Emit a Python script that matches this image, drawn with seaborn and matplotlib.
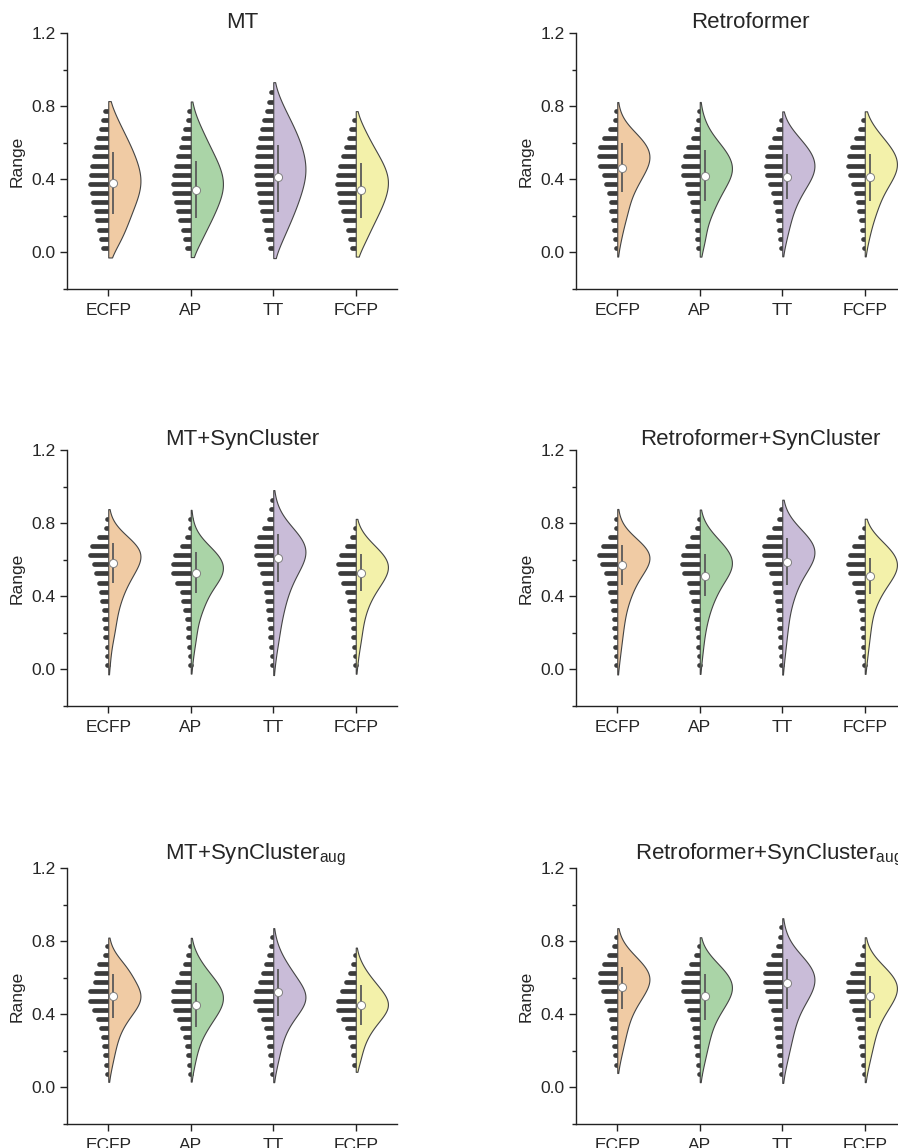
import numpy as np
import pandas as pd
import matplotlib
matplotlib.use("Agg")
import matplotlib.pyplot as plt
import seaborn as sns
from matplotlib.ticker import MultipleLocator, FormatStrFormatter

categories = ["ECFP", "AP", "TT", "FCFP"]
colors = ["#FDCB97", "#A4DBA0", "#C9B7DD", "#FFFC9E"]
bin_width = 0.05

# MT
mt_start = [0.025, 0.025, 0.025, 0.025]
mt_counts = [
    [5, 7, 9, 11, 12, 15, 16, 18, 17, 16, 14, 12, 10, 7, 5, 3],
    [4, 6, 8, 11, 13, 15, 17, 18, 17, 15, 13, 10, 8, 6, 3, 2],
    [3, 5, 7, 9, 11, 13, 14, 16, 17, 17, 16, 15, 13, 11, 9, 6, 4, 2],
    [4, 6, 8, 11, 13, 16, 17, 19, 18, 16, 13, 10, 7, 5, 2],
]
mt_mean = [0.38, 0.34, 0.41, 0.34]
mt_low = [0.21, 0.19, 0.22, 0.19]
mt_high = [0.55, 0.50, 0.59, 0.49]

# Retroformer
rf_start = [0.025, 0.025, 0.025, 0.025]
rf_counts = [
    [1, 2, 3, 4, 6, 6, 8, 11, 13, 17, 18, 17, 13, 7, 2, 1],
    [2, 3, 3, 4, 7, 8, 11, 13, 17, 17, 15, 12, 7, 4, 2, 1],
    [1, 2, 3, 4, 5, 7, 9, 12, 15, 16, 15, 12, 8, 4, 1],
    [1, 2, 3, 4, 6, 7, 9, 12, 15, 17, 16, 13, 9, 5, 2],
]
rf_mean = [0.46, 0.42, 0.41, 0.41]
rf_low = [0.33, 0.28, 0.29, 0.28]
rf_high = [0.60, 0.56, 0.54, 0.54]

# MT+SynCluster
mts_start = [0.025, 0.025, 0.025, 0.025]
mts_counts = [
    [1, 1, 1, 3, 3, 4, 4, 6, 7, 9, 12, 14, 18, 16, 9, 2, 1],
    [1, 1, 2, 3, 3, 4, 6, 8, 9, 14, 18, 18, 16, 9, 4, 1, 1],
    [1, 1, 2, 3, 3, 4, 5, 6, 7, 9, 11, 14, 17, 17, 14, 9, 4, 2, 1],
    [1, 1, 2, 3, 3, 4, 5, 7, 9, 13, 16, 18, 15, 9, 4, 1],
]
mts_mean = [0.58, 0.53, 0.61, 0.53]
mts_low = [0.47, 0.42, 0.48, 0.43]
mts_high = [0.69, 0.64, 0.74, 0.63]

# Retroformer+SynCluster
rfs_start = [0.025, 0.025, 0.025, 0.025]
rfs_counts = [
    [1, 1, 2, 2, 3, 3, 4, 5, 7, 8, 11, 15, 18, 14, 7, 1, 1],
    [1, 1, 2, 2, 3, 4, 5, 7, 9, 11, 16, 18, 17, 13, 8, 3, 1],
    [1, 1, 2, 2, 3, 3, 4, 5, 7, 8, 11, 15, 18, 18, 14, 8, 3, 1],
    [1, 1, 2, 2, 3, 3, 4, 6, 8, 11, 15, 17, 15, 11, 5, 1],
]
rfs_mean = [0.57, 0.51, 0.59, 0.51]
rfs_low = [0.46, 0.40, 0.46, 0.41]
rfs_high = [0.68, 0.63, 0.72, 0.61]

# MT+SynCluster_aug
mta_start = [0.075, 0.075, 0.075, 0.125]
mta_counts = [
    [1, 2, 3, 4, 5, 7, 10, 14, 18, 18, 13, 12, 9, 3, 1],
    [1, 2, 3, 4, 6, 9, 12, 16, 18, 18, 14, 10, 6, 3, 1],
    [1, 2, 3, 4, 5, 7, 10, 14, 18, 17, 13, 10, 7, 4, 2, 1],
    [2, 3, 4, 6, 9, 13, 18, 18, 14, 10, 6, 3, 1],
]
mta_mean = [0.50, 0.45, 0.52, 0.45]
mta_low = [0.38, 0.33, 0.39, 0.34]
mta_high = [0.62, 0.57, 0.65, 0.56]

# Retroformer+SynCluster_aug
rfa_start = [0.125, 0.075, 0.075, 0.075]
rfa_counts = [
    [1, 2, 3, 4, 5, 6, 8, 11, 14, 17, 17, 13, 8, 3, 1],
    [1, 2, 3, 4, 5, 6, 8, 11, 14, 17, 17, 14, 9, 4, 1],
    [1, 2, 3, 4, 5, 6, 7, 9, 12, 15, 17, 17, 14, 9, 4, 2, 1],
    [1, 2, 3, 4, 5, 6, 8, 11, 14, 17, 17, 13, 8, 3, 1],
]
rfa_mean = [0.55, 0.50, 0.57, 0.50]
rfa_low = [0.43, 0.37, 0.43, 0.38]
rfa_high = [0.66, 0.62, 0.70, 0.61]

BAR_SCALE = 1 / 82.7   # one count = one pixel of bar length
BOX_SHIFT = 0.06


def panel_frame(start, counts):
    rows = []
    for cat, s, c in zip(categories, start, counts):
        centers = s + bin_width * np.arange(len(c))
        for v, n in zip(centers, c):
            rows += [(cat, round(v, 3))] * n
    df = pd.DataFrame(rows, columns=["fp", "value"])
    df["side"] = "right"
    return df


def draw_panel(ax, title, start, counts, mean, low, high, title_x, title_ha):
    df = panel_frame(start, counts)
    # half violins on the right: empty "left" level keeps each body on the right side
    for cat, col in zip(categories, colors):
        sns.violinplot(data=df[df.fp == cat], x="fp", y="value", order=categories,
                       hue="side", hue_order=["left", "right"],
                       palette={"left": col, "right": col}, split=True, dodge=True,
                       inner=None, density_norm="width", width=0.78, cut=0.8,
                       linewidth=0.8, linecolor="#444444", legend=False, ax=ax)
    for coll in ax.collections:
        coll.set_zorder(3)

    # histogram bars on the left side
    for i, (s, c) in enumerate(zip(start, counts)):
        centers = s + bin_width * np.arange(len(c))
        ax.hlines(centers, i - np.array(c) * BAR_SCALE, i, color="#3b3b3b",
                  lw=3.4, capstyle="round", zorder=2)

    xs = np.arange(len(categories)) + BOX_SHIFT
    ax.vlines(xs, low, high, color="#5a5a5a", lw=1.3, zorder=4)
    ax.scatter(xs, mean, s=34, facecolor="white", edgecolor="#808080",
               linewidth=0.7, zorder=5)

    ax.set_xlim(-0.5, 3.5)
    ax.set_ylim(-0.2, 1.2)
    ax.yaxis.set_major_locator(MultipleLocator(0.4))
    ax.yaxis.set_minor_locator(MultipleLocator(0.2))
    ax.yaxis.set_major_formatter(FormatStrFormatter("%.1f"))
    ax.tick_params(axis="both", which="major", length=5, width=1, labelsize=12.5,
                   color="#222222")
    ax.tick_params(axis="y", which="major", pad=3)
    ax.tick_params(axis="x", which="major", pad=5)
    ax.tick_params(axis="y", which="minor", length=3, width=1, color="#222222")
    sns.despine(ax=ax)
    for sp in ["left", "bottom"]:
        ax.spines[sp].set_linewidth(1.0)
        ax.spines[sp].set_color("#222222")
    ax.set_xlabel("")
    ax.set_ylabel("Range", fontsize=12.5, labelpad=5)
    ax.set_title(title, fontsize=16, pad=-1, x=title_x, ha=title_ha)


sns.set_theme(style="ticks")
plt.rcParams["font.family"] = ["Liberation Sans", "DejaVu Sans"]
plt.rcParams["mathtext.fontset"] = "custom"
plt.rcParams["mathtext.rm"] = "Liberation Sans"

fig = plt.figure(figsize=(8.98, 11.48), dpi=100)
W, H = 898, 1148
left_x, right_x, ax_w = 67, 576, 330
rows_top = [33, 450, 868]
ax_h = 256

panels = [
    ("MT", mt_start, mt_counts, mt_mean, mt_low, mt_high, 0, 0, 0.53, "center"),
    ("Retroformer", rf_start, rf_counts, rf_mean, rf_low, rf_high, 0, 1, 0.527, "center"),
    ("MT+SynCluster", mts_start, mts_counts, mts_mean, mts_low, mts_high, 1, 0, 0.297, "left"),
    ("Retroformer+SynCluster", rfs_start, rfs_counts, rfs_mean, rfs_low, rfs_high, 1, 1, 0.194, "left"),
    ("MT+SynCluster$_\\mathregular{aug}$", mta_start, mta_counts, mta_mean, mta_low, mta_high, 2, 0, 0.297, "left"),
    ("Retroformer+SynCluster$_\\mathregular{aug}$", rfa_start, rfa_counts, rfa_mean, rfa_low, rfa_high, 2, 1, 0.179, "left"),
]

for title, start, counts, mean, low, high, r, c, tx, tha in panels:
    x0 = left_x if c == 0 else right_x
    top = rows_top[r]
    ax = fig.add_axes([x0 / W, 1 - (top + ax_h) / H, ax_w / W, ax_h / H])
    draw_panel(ax, title, start, counts, mean, low, high, tx, tha)

fig.savefig("out.png", dpi=100)
